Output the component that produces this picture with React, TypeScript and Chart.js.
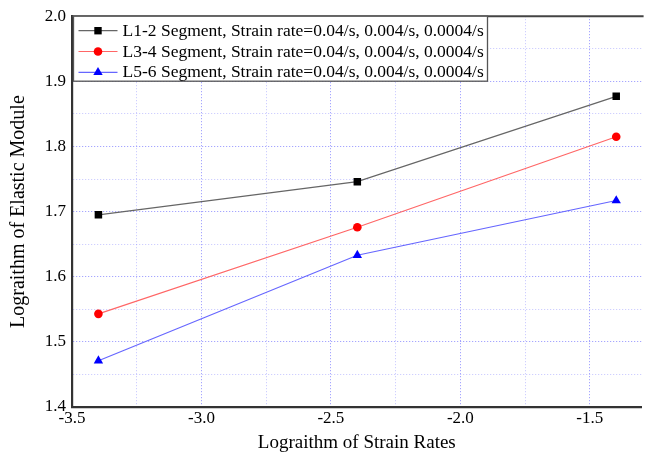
import React, { useEffect, useRef } from "react";
import { Chart, registerables } from "chart.js";

Chart.register(...registerables);

const strainRates = [-3.398, -2.398, -1.398];
const seriesL12 = [1.695, 1.746, 1.877];
const seriesL34 = [1.543, 1.676, 1.815];
const seriesL56 = [1.471, 1.633, 1.717];
const seriesLabels = [
  "L1-2 Segment, Strain rate=0.04/s, 0.004/s, 0.0004/s",
  "L3-4 Segment, Strain rate=0.04/s, 0.004/s, 0.0004/s",
  "L5-6 Segment, Strain rate=0.04/s, 0.004/s, 0.0004/s",
];
const xTicks = [-3.5, -3.25, -3.0, -2.75, -2.5, -2.25, -2.0, -1.75, -1.5];
const yTicks = [1.4, 1.45, 1.5, 1.55, 1.6, 1.65, 1.7, 1.75, 1.8, 1.85, 1.9, 1.95, 2.0];

const FONT = "'Liberation Serif', 'Times New Roman', serif";
Chart.defaults.font.family = FONT;

const borderPlugin = {
  id: "topBorder",
  beforeDatasetsDraw(chart: any) {
    const { ctx, chartArea } = chart;
    ctx.save();
    ctx.strokeStyle = "#444";
    ctx.lineWidth = 2;
    ctx.beginPath();
    ctx.moveTo(chartArea.left, chartArea.top);
    ctx.lineTo(chartArea.right + 2, chartArea.top);
    ctx.stroke();
    ctx.restore();
  },
};

const legendPlugin = {
  id: "boxLegend",
  afterDraw(chart: any) {
    const { ctx, chartArea } = chart;
    const x0 = chartArea.left + 1.5;
    const y0 = chartArea.top;
    const w = 414;
    const h = 65;
    ctx.save();
    ctx.fillStyle = "#fff";
    ctx.fillRect(x0, y0, w, h);
    ctx.strokeStyle = "#555";
    ctx.lineWidth = 1.3;
    ctx.strokeRect(x0, y0, w, h);
    chart.data.datasets.forEach((ds: any, i: number) => {
      const cy = y0 + 14.5 + i * 20.8;
      const lx1 = x0 + 5;
      const lx2 = x0 + 44;
      const mx = (lx1 + lx2) / 2;
      ctx.strokeStyle = ds.borderColor;
      ctx.lineWidth = 1.2;
      ctx.beginPath();
      ctx.moveTo(lx1, cy);
      ctx.lineTo(lx2, cy);
      ctx.stroke();
      ctx.fillStyle = ds.pointBackgroundColor;
      ctx.beginPath();
      if (ds.pointStyle === "rect") {
        ctx.rect(mx - 3.7, cy - 3.7, 7.4, 7.4);
      } else if (ds.pointStyle === "circle") {
        ctx.arc(mx, cy, 4.3, 0, Math.PI * 2);
      } else {
        const r = 5.4;
        ctx.moveTo(mx, cy - r);
        ctx.lineTo(mx + r * Math.sin((2 * Math.PI) / 3), cy - r * Math.cos((2 * Math.PI) / 3));
        ctx.lineTo(mx + r * Math.sin((4 * Math.PI) / 3), cy - r * Math.cos((4 * Math.PI) / 3));
        ctx.closePath();
      }
      ctx.fill();
      ctx.fillStyle = "#000";
      ctx.font = `17.5px ${FONT}`;
      ctx.textBaseline = "middle";
      ctx.textAlign = "left";
      ctx.fillText(ds.label, x0 + 49, cy + 0.5);
    });
    ctx.restore();
  },
};

const gridColor = (major: boolean) => (major ? "rgba(110,110,255,0.75)" : "rgba(140,140,255,0.5)");

export default function App() {
  const ref = useRef<HTMLCanvasElement>(null);

  useEffect(() => {
    document.body.style.margin = "0";
    const mk = (ys: number[]) => strainRates.map((x, i) => ({ x, y: ys[i] }));
    const chart = new Chart(ref.current!, {
      type: "line",
      data: {
        datasets: [
          {
            label: seriesLabels[0],
            data: mk(seriesL12),
            borderColor: "#666666",
            borderWidth: 1.2,
            pointStyle: "rect",
            pointRadius: 5.3,
            pointBackgroundColor: "#000",
            pointBorderWidth: 0,
          },
          {
            label: seriesLabels[1],
            data: mk(seriesL34),
            borderColor: "#ff6666",
            borderWidth: 1.2,
            pointStyle: "circle",
            pointRadius: 4.3,
            pointBackgroundColor: "#ff0000",
            pointBorderWidth: 0,
          },
          {
            label: seriesLabels[2],
            data: mk(seriesL56),
            borderColor: "#6666ff",
            borderWidth: 1.2,
            pointStyle: "triangle",
            pointRadius: 5.4,
            pointBackgroundColor: "#0000ff",
            pointBorderWidth: 0,
          },
        ] as any,
      },
      plugins: [borderPlugin, legendPlugin],
      options: {
        animation: false,
        responsive: true,
        maintainAspectRatio: false,
        layout: { padding: { top: 15, right: 1, left: 0, bottom: 0 } },
        plugins: { legend: { display: false }, tooltip: { enabled: false } },
        scales: {
          x: {
            type: "linear",
            min: -3.5,
            max: -1.3,
            afterBuildTicks: (s: any) => {
              s.ticks = xTicks.map((v) => ({ value: v }));
            },
            afterFit: (s: any) => {
              s.height = 51;
            },
            ticks: {
              autoSkip: false,
              maxRotation: 0,
              padding: 1,
              color: "#000",
              font: { family: FONT, size: 17 },
              callback: (v: any) => {
                const n = Number(v);
                return Math.round(n * 100) % 50 === 0 ? n.toFixed(1) : "";
              },
            },
            grid: {
              drawTicks: false,
              lineWidth: 1,
              color: (c: any) => {
                const v = c.tick ? c.tick.value : 0;
                return gridColor(Math.round(v * 100) % 50 === 0);
              },
            },
            border: { display: true, color: "#333", width: 2.2, dash: [1, 2] },
            title: {
              display: true,
              text: "Lograithm of Strain Rates",
              color: "#000",
              font: { family: FONT, size: 19 },
              padding: { top: 0, bottom: 4 },
            },
          },
          y: {
            type: "linear",
            min: 1.4,
            max: 2.0,
            afterBuildTicks: (s: any) => {
              s.ticks = yTicks.map((v) => ({ value: v }));
            },
            afterFit: (s: any) => {
              s.width = 72;
            },
            ticks: {
              autoSkip: false,
              padding: 6,
              color: "#000",
              font: { family: FONT, size: 17 },
              callback: (v: any) => {
                const n = Number(v);
                return Math.round(n * 100) % 10 === 0 ? n.toFixed(1) : "";
              },
            },
            grid: {
              drawTicks: false,
              lineWidth: 1,
              color: (c: any) => {
                const v = c.tick ? c.tick.value : 0;
                return gridColor(Math.round(v * 100) % 10 === 0);
              },
            },
            border: { display: true, color: "#333", width: 2.2, dash: [1, 2] },
            title: {
              display: true,
              text: "Lograithm of Elastic Module",
              color: "#000",
              font: { family: FONT, size: 20 },
              padding: { top: 7, bottom: 0 },
            },
          },
        },
      } as any,
    });
    return () => chart.destroy();
  }, []);

  return (
    <div style={{ position: "relative", width: 647, height: 458 }}>
      <canvas ref={ref} />
    </div>
  );
}
